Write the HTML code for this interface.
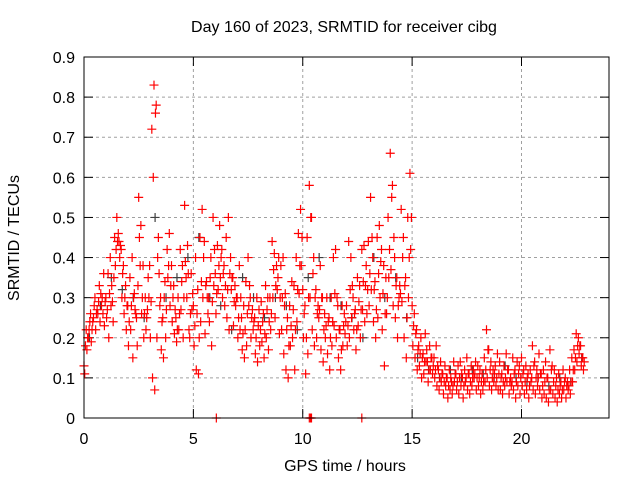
<!DOCTYPE html>
<html><head><meta charset="utf-8"><style>
body{margin:0;background:#fff}
svg{display:block;font-family:"Liberation Sans",sans-serif}
</style></head><body>
<svg id="chart" width="640" height="480">
<text x="344" y="32" font-size="16" text-anchor="middle">Day 160 of 2023, SRMTID for receiver cibg</text>
<text x="345" y="471" font-size="16" text-anchor="middle">GPS time / hours</text>
<text x="19" y="238" font-size="16" text-anchor="middle" transform="rotate(-90 19 238)">SRMTID / TECUs</text>
<g id="grid"></g>
<g id="ticks"></g>
<g id="black"></g>
<g id="red"></g>
<rect x="84" y="57" width="525" height="361" fill="none" stroke="#000" stroke-width="1"/>
</svg>
<script>
const xTicks=[0,5,10,15,20];
const yTicks=[0,0.1,0.2,0.3,0.4,0.5,0.6,0.7,0.8,0.9];
const yTickLabels=["0","0.1","0.2","0.3","0.4","0.5","0.6","0.7","0.8","0.9"];
const redStart=0, redStep=0.1;
const redA=[.13,.22,.20,.26,.24,.30,.27,.33,.28,.36,
.30,.36,.40,.29,.45,.50,.44,.42,.38,.33,
.28,.35,.40,.31,.25,.55,.48,.38,.30,.27,
.38,.72,.83,.78,.45,.30,.25,.34,.42,.46,
.38,.33,.25,.30,.42,.38,.53,.30,.22,.36,
.28,.40,.32,.45,.52,.44,.34,.30,.40,.50,
.36,.43,.48,.42,.38,.45,.50,.40,.35,.33,
.30,.38,.25,.28,.34,.40,.30,.27,.25,.30,
.27,.29,.26,.33,.30,.30,.44,.41,.38,.40,
.38,.40,.31,.25,.28,.34,.33,.40,.46,.52,
.32,.28,.45,.58,.50,.40,.32,.28,.38,.30,
.26,.30,.25,.30,.40,.42,.28,.22,.28,.26,
.28,.44,.40,.30,.27,.35,.33,.42,.43,.38,
.44,.55,.40,.34,.45,.48,.42,.38,.35,.50,
.66,.58,.40,.35,.30,.52,.45,.35,.50,.61,
.28,.26,.22,.18,.20,.16,.21,.14,.18,.15,
.15,.18,.12,.14,.11,.13,.10,.12,.09,.14,
.11,.13,.14,.10,.12,.15,.11,.13,.12,.14,
.13,.12,.11,.15,.22,.17,.14,.12,.13,.16,
.14,.11,.13,.16,.12,.10,.15,.12,.14,.13,
.15,.12,.13,.11,.12,.18,.14,.12,.16,.11,
.12,.14,.10,.17,.13,.12,.10,.11,.09,.12,
.10,.09,.12,.15,.17,.21,.20,.18,.15];
const redB=[.11,.17,.22,.19,.25,.22,.26,.24,.30,.23,
.25,.20,.28,.24,.38,.44,.40,.30,.26,.22,
.18,.22,.15,.27,.18,.45,.26,.20,.22,.35,
.20,.10,.07,.20,.36,.17,.15,.20,.35,.28,
.24,.21,.19,.22,.27,.20,.39,.43,.20,.27,
.18,.12,.11,.24,.30,.21,.30,.24,.18,.33,
.26,.32,.35,.30,.28,.25,.22,.32,.23,.28,
.20,.22,.17,.15,.18,.28,.20,.22,.16,.14,
.18,.19,.15,.20,.17,.22,.30,.25,.32,.21,
.22,.16,.12,.10,.18,.20,.12,.24,.31,.38,
.20,.11,.16,.30,.22,.18,.20,.25,.17,.14,
.20,.16,.12,.18,.23,.20,.15,.12,.18,.21,
.18,.20,.25,.22,.17,.23,.20,.27,.24,.26,
.28,.32,.24,.20,.25,.30,.22,.13,.26,.35,
.37,.28,.25,.20,.33,.29,.20,.15,.30,.42,
.18,.15,.12,.13,.10,.11,.14,.09,.12,.11,
.10,.08,.07,.09,.06,.08,.05,.07,.06,.09,
.07,.06,.08,.05,.09,.07,.06,.08,.10,.07,
.08,.06,.07,.09,.10,.08,.07,.09,.08,.07,
.07,.06,.08,.09,.06,.08,.07,.05,.08,.06,
.08,.06,.07,.05,.09,.07,.06,.08,.07,.05,
.06,.05,.04,.07,.06,.05,.04,.06,.05,.07,
.05,.07,.06,.09,.12,.14,.16,.13,.12];
const redC=[.18,.20,.24,.22,.28,.26,.29,.31,.26,.29,
.27,.31,.33,.35,.42,.46,.43,.36,.30,.28,
.24,.28,.30,.26,.33,.38,.30,.26,.25,.30,
.29,.60,.76,.40,.28,.24,.30,.27,.38,.33,
.30,.27,.22,.26,.34,.30,.35,.36,.26,.31,
.23,.26,.20,.34,.40,.33,.26,.35,.29,.42,
.31,.38,.40,.36,.33,.32,.36,.35,.29,.30,
.25,.30,.21,.22,.26,.33,.25,.24,.20,.23,
.22,.24,.21,.27,.24,.26,.37,.33,.35,.30,
.30,.28,.22,.18,.23,.27,.22,.32,.38,.45,
.26,.20,.30,.50,.36,.30,.26,.27,.30,.22,
.23,.24,.20,.24,.31,.30,.22,.17,.23,.24,
.23,.32,.33,.26,.22,.29,.27,.34,.33,.32,
.36,.45,.32,.27,.36,.39,.31,.26,.30,.42,
.55,.45,.33,.28,.31,.40,.33,.25,.40,.50,
.23,.21,.17,.16,.15,.14,.17,.12,.15,.13,
.12,.13,.10,.11,.09,.10,.08,.10,.08,.11,
.09,.10,.11,.08,.10,.11,.09,.10,.11,.10,
.10,.09,.09,.12,.17,.12,.10,.11,.10,.11,
.10,.09,.10,.12,.09,.09,.11,.09,.11,.10,
.11,.09,.10,.08,.10,.13,.10,.10,.11,.08,
.09,.10,.07,.12,.09,.08,.07,.08,.07,.09,
.08,.08,.09,.12,.15,.18,.18,.15,.14];
const blackStart=0.25, blackStep=0.5;
const blackVals=[.2,.28,.35,.32,.3,.25,.5,.3,.35,.4,.45,.3,.28,.22,.35,.3,.25,.3,.28,.22,.35,.4,.3,.28,.25,.2,.4,.3,.35,.25,.15,.12,.1,.12,.1,.12,.11,.1,.13,.1,.09,.1,.08,.1,.09,.15];
const zeroTimes=[6.05,10.3,10.35,10.4,12.7];

const NS="http://www.w3.org/2000/svg";
const X=t=>84+t*525/24;
const Y=v=>418-v*361/0.9;
function el(tag,attrs,parent){const e=document.createElementNS(NS,tag);for(const k in attrs)e.setAttribute(k,attrs[k]);parent.appendChild(e);return e;}
const grid=document.getElementById('grid'), ticks=document.getElementById('ticks');
yTicks.forEach((v,i)=>{
  const y=Y(v);
  if(i>0&&i<yTicks.length-1){const g=el('line',{x1:84,x2:609,y1:y,y2:y,stroke:'#a0a0a0','stroke-dasharray':'3,3'},grid);
  
  }
  el('line',{x1:84,x2:93,y1:y,y2:y,stroke:'#000'},ticks);
  el('line',{x1:600,x2:609,y1:y,y2:y,stroke:'#000'},ticks);
  const t=el('text',{x:75,y:y+6,'font-size':16,'text-anchor':'end'},ticks);t.textContent=yTickLabels[i];
  
  
});
xTicks.forEach(v=>{
  const x=X(v);
  if(v>0){const g=el('line',{x1:x,x2:x,y1:57,y2:418,stroke:'#a0a0a0','stroke-dasharray':'3,3'},grid);
  
  }
  el('line',{x1:x,x2:x,y1:409,y2:418,stroke:'#000'},ticks);
  el('line',{x1:x,x2:x,y1:57,y2:66,stroke:'#000'},ticks);
  const t=el('text',{x:x,y:444,'font-size':16,'text-anchor':'middle'},ticks);t.textContent=String(v);
  
  
});
function plus(parent,t,v,color,name){
  const x=X(t),y=Y(v);
  const p=el('path',{d:`M${x-4.5},${y}h9M${x},${y-4.5}v9`,stroke:color,'stroke-width':1.2,fill:'none'},parent);
  
  
}
const bg=document.getElementById('black'), rg=document.getElementById('red');
blackVals.forEach((v,i)=>plus(bg,blackStart+i*blackStep,v,'#404040','black-point'));
redA.forEach((v,i)=>plus(rg,redStart+i*redStep,v,'#ff0000','red-point'));
redB.forEach((v,i)=>plus(rg,redStart+i*redStep+0.033,v,'#ff0000','red-point'));
redC.forEach((v,i)=>plus(rg,redStart+i*redStep+0.067,v,'#ff0000','red-point'));
zeroTimes.forEach(t=>plus(rg,t,0,'#ff0000','red-zero-point'));
</script>
</body></html>
